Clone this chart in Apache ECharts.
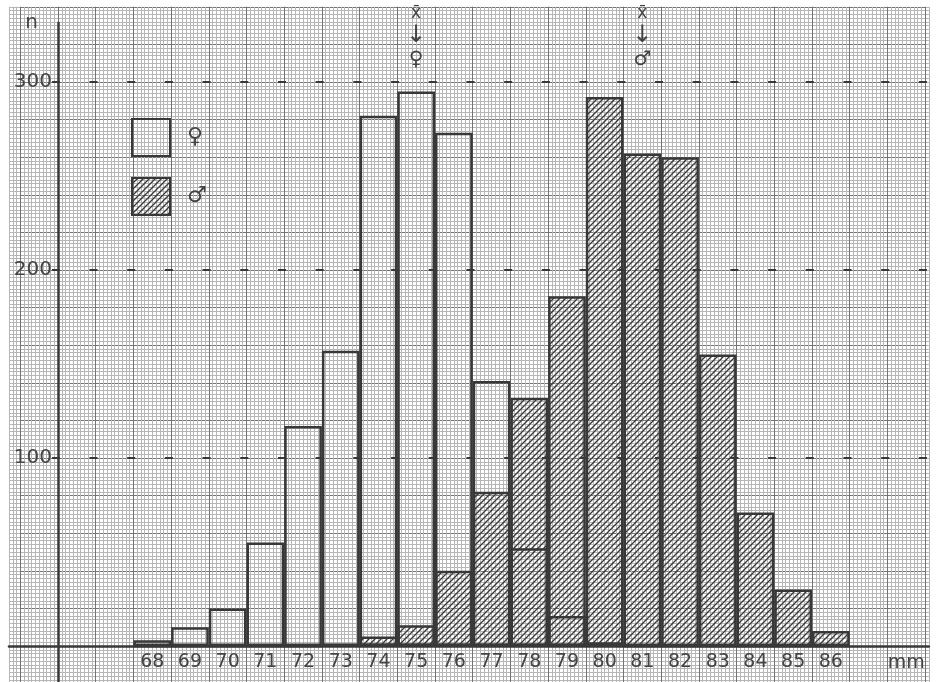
<!DOCTYPE html>
<html><head><meta charset="utf-8">
<script src="https://cdn.jsdelivr.net/npm/echarts@6/dist/echarts.min.js"></script>
<style>html,body{margin:0;padding:0;background:#fff}#c{width:939px;height:682px}</style>
</head><body><div id="c"></div>
<script>
// ---- data ----
const lengthClasses = ['68','69','70','71','72','73','74','75','76','77','78','79','80','81','82','83','84','85','86'];
const leadingSlots = ['66','67'];
const trailingSlots = ['87','88','89'];
const femaleCounts = [3,10,20,55,117,157,282,295,273,141,52,16,2,0,0,0,0,0,0];
const maleCounts   = [0,0,0,0,0,1,5,11,40,82,132,186,292,262,260,155,71,30,8];
const yTickLabels = [100,200,300];
const seriesNames = ['\u2640','\u2642'];
const meanFemaleClass = '75';
const meanMaleClass = '81';
const xUnitLabel = 'mm';
const yAxisName = 'n';

// ---- layout / style ----
const MM = 37.7;       // px per mm class
const CNT = 1.88;      // px per count
const X0 = 58, Y0 = 646;
const YMIN = -20, YMAX = 331.5;
const INK = '#383838';
const axisSlots = [...leadingSlots, ...lengthClasses, ...trailingSlots];
const firstIdx = leadingSlots.length, lastIdx = leadingSlots.length + lengthClasses.length - 1;

function hatch() {
  const s = 6;
  const c = document.createElement('canvas');
  c.width = s; c.height = s;
  const g = c.getContext('2d');
  g.strokeStyle = INK; g.lineWidth = 1.3;
  g.beginPath();
  g.moveTo(0, s); g.lineTo(s, 0);
  g.moveTo(-s/2, s/2); g.lineTo(s/2, -s/2);
  g.moveTo(s/2, s*1.5); g.lineTo(s*1.5, s/2);
  g.stroke();
  return c;
}

const minorX = MM/10, minorY = CNT*2;
const chart = echarts.init(document.getElementById('c'), null, {renderer:'canvas'});
const hidden = {show:false};
const meanLabel = sym => ({
  show:true, position:'inside', offset:[0, 15],
  formatter: '{a|x\u0304}\n{b|\u2193}\n{c|' + sym + '}',
  rich:{
    a:{fontSize:17, lineHeight:18, color:'#444', fontFamily:'DejaVu Sans'},
    b:{fontSize:24, lineHeight:26, color:'#444', fontFamily:'DejaVu Sans'},
    c:{fontSize:20, lineHeight:22, color:'#444', fontFamily:'DejaVu Sans'}
  }
});

chart.setOption({
  animation:false,
  backgroundColor:'#ffffff',
  textStyle:{fontFamily:'DejaVu Sans'},
  grid:[
    {left:X0-13*minorX, top:Y0-170*minorY, width:244*minorX, height:180*minorY, outerBoundsMode:'none', containLabel:false},
    {left:X0-MM, top:Y0-17*20*CNT, width:24*MM, height:18*20*CNT, outerBoundsMode:'none', containLabel:false},
    {left:X0, top:Y0-YMAX*CNT, width:24*MM, height:(YMAX-YMIN)*CNT, outerBoundsMode:'none', containLabel:false}
  ],
  xAxis:[
    {gridIndex:0, type:'value', min:-13, max:231, interval:1,
     axisLine:{show:true, onZero:true, lineStyle:{color:INK, width:2.5}},
     axisTick:hidden, axisLabel:hidden,
     splitLine:{show:true, lineStyle:{color:'#b6b6b6', width:1}}},
    {gridIndex:1, type:'value', min:0, max:24, interval:1,
     axisLine:hidden, axisTick:hidden, axisLabel:hidden,
     splitLine:{show:true, lineStyle:{color:'#747474', width:1}}},
    {gridIndex:2, type:'category', data:axisSlots, position:'bottom', offset:YMIN*CNT,
     axisLine:{show:false, onZero:false}, axisTick:hidden,
     axisLabel:{show:true, margin:7, fontSize:19, color:'#444', hideOverlap:false,
       interval:(idx) => idx >= firstIdx && idx <= lastIdx},
     splitLine:hidden,
     name:xUnitLabel, nameLocation:'end', nameGap:-75,
     nameTextStyle:{fontSize:19, color:'#444', align:'left', verticalAlign:'top', padding:[8,0,0,0]}}
  ],
  yAxis:[
    {gridIndex:0, type:'value', min:-10, max:170, interval:1,
     axisLine:hidden, axisTick:hidden, axisLabel:hidden,
     splitLine:{show:true, lineStyle:{color:'#b6b6b6', width:1}}},
    {gridIndex:1, type:'value', min:0, max:18, interval:1,
     axisLine:hidden, axisTick:hidden, axisLabel:hidden,
     splitLine:{show:true, lineStyle:{color:'#747474', width:1}}},
    {gridIndex:2, type:'value', min:YMIN, max:YMAX,
     axisLine:{show:true, onZero:false, lineStyle:{color:INK, width:2.5}},
     axisTick:{show:true, customValues:yTickLabels, length:6, lineStyle:{color:INK, width:2}},
     axisLabel:{show:true, customValues:yTickLabels, fontSize:20, color:'#444', margin:6},
     splitLine:hidden,
     name:yAxisName, nameLocation:'end', nameGap:0,
     nameTextStyle:{fontSize:20, color:'#444', align:'right', verticalAlign:'middle', padding:[0,20,0,0]}}
  ],
  legend:{
    show:true, orient:'vertical', left:126, top:113,
    itemWidth:38, itemHeight:37, itemGap:20, icon:'rect',
    data:seriesNames,
    textStyle:{fontSize:22, color:'#444', padding:[0,0,0,12]},
    selectedMode:false
  },
  series:[
    {type:'bar', name:seriesNames[0], xAxisIndex:2, yAxisIndex:2,
     barWidth:'100%', barGap:'-100%',
     data:lengthClasses.map((c,i)=>[c, femaleCounts[i]]),
     itemStyle:{color:'rgba(0,0,0,0)', borderColor:INK, borderWidth:2.5},
     emphasis:{disabled:true},
     markLine:{silent:true, symbol:'none', label:hidden,
       lineStyle:{color:INK, width:2, type:[8, MM-8], dashOffset:6.2},
       data:yTickLabels.map(v=>({yAxis:v}))},
     markPoint:{silent:true, symbolSize:0,
       data:[{coord:[meanFemaleClass, YMAX], label:meanLabel('\u2640')}]}
    },
    {type:'bar', name:seriesNames[1], xAxisIndex:2, yAxisIndex:2,
     barWidth:'100%', barGap:'-100%',
     data:lengthClasses.map((c,i)=>[c, maleCounts[i]]),
     itemStyle:{color:{image:hatch(), repeat:'repeat'}, borderColor:INK, borderWidth:2.5},
     emphasis:{disabled:true},
     markPoint:{silent:true, symbolSize:0,
       data:[{coord:[meanMaleClass, YMAX], label:meanLabel('\u2642')}]}
    }
  ]
});
</script></body></html>
